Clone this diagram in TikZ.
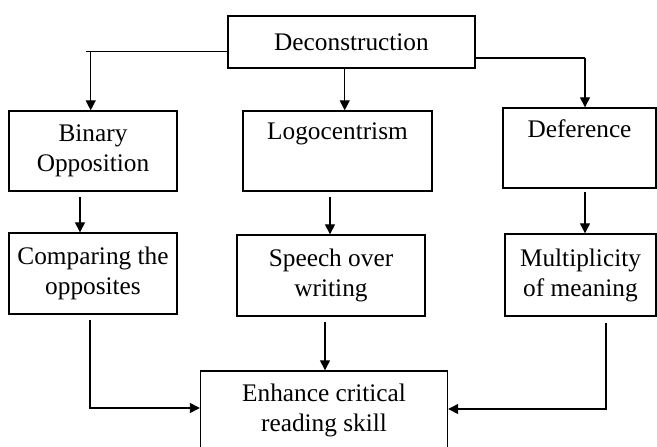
\documentclass[tikz,border=0pt]{standalone}
\usepackage{fontspec}
\setmainfont{Liberation Serif}
\usetikzlibrary{arrows.meta}
\tikzset{
  box/.style={draw, line width=1.4pt, rectangle, inner sep=0pt, align=center,
    font=\fontsize{25.3}{30}\selectfont},
  link/.style={line width=1.3pt},
  arr/.style={line width=1.3pt, -{Triangle[width=10pt,length=10pt]}}
}
\begin{document}
\begin{tikzpicture}[x=1pt,y=-1pt]
\useasboundingbox (0,0) rectangle (657,447);
\clip (0,0) rectangle (657,447);
% boxes
\node[box, minimum width=247, minimum height=52] (dec) at (351.5,42) {Deconstruction};
\node[box, minimum width=168, minimum height=80] (bin) at (93,151) {Binary\\Opposition};
\node[box, minimum width=189, minimum height=80] (logo) at (337.5,151) {Logocentrism\\\strut};
\node[box, minimum width=153, minimum height=80] (def) at (579.5,148) {Deference\\\strut};
\node[box, minimum width=168, minimum height=81] (comp) at (93,273.5) {Comparing the\\opposites};
\node[box, minimum width=188, minimum height=81] (speech) at (331,275.5) {Speech over\\writing};
\node[box, minimum width=151, minimum height=82] (mult) at (580.5,275) {Multiplicity\\of meaning};
\node[box, minimum width=247, minimum height=78] (enh) at (324,410) {Enhance critical\\reading skill};
% connector coordinates
\coordinate (c1) at (90.7,51.7);
\coordinate (c2) at (344.7,0);
\coordinate (c3) at (585,58);
\coordinate (c4) at (80,197);
\coordinate (c5) at (330,197);
\coordinate (c6) at (585,192);
\coordinate (c7) at (90,320);
\coordinate (c8) at (90,408);
\coordinate (c9) at (325,322);
\coordinate (c10) at (606,323);
\coordinate (c11) at (606,409);
% top level
\draw[link] (c1 -| dec.west) -- ([xshift=-5pt]c1);
\draw[arr] (c1) -- (c1 |- bin.north);
\draw[arr] (c2 |- dec.south) -- (c2 |- logo.north);
\draw[link] (c3 -| dec.east) -- (c3);
\draw[arr] (c3) -- (c3 |- def.north);
% second level
\draw[arr] (c4) -- (c4 |- comp.north);
\draw[arr] (c5) -- (c5 |- speech.north);
\draw[arr] (c6) -- (c6 |- mult.north);
% to bottom
\draw[arr] (c7) -- (c8) -- (c8 -| enh.west);
\draw[arr] (c9) -- (c9 |- enh.north);
\draw[arr] (c10) -- (c11) -- (c11 -| enh.east);
\end{tikzpicture}
\end{document}
